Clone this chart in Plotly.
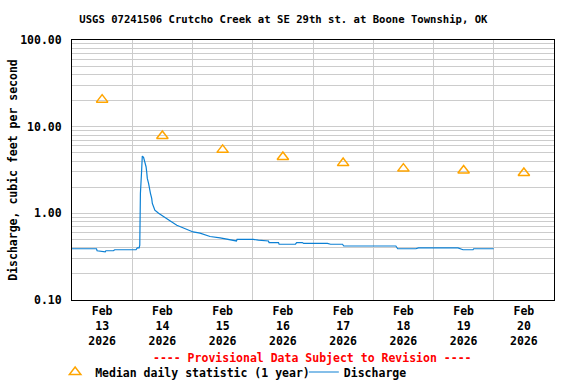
import plotly.graph_objects as go

# Median daily statistic (1 year), plotted at noon of each day
median_dates = ["2026-02-13 12:00", "2026-02-14 12:00", "2026-02-15 12:00", "2026-02-16 12:00",
                "2026-02-17 12:00", "2026-02-18 12:00", "2026-02-19 12:00", "2026-02-20 12:00"]
median_values = [20.5, 7.8, 5.4, 4.46, 3.8, 3.28, 3.12, 2.92]

# Discharge (cfs)
q_times = [
    "2026-02-13 00:00", "2026-02-13 09:45", "2026-02-13 10:00", "2026-02-13 12:45", "2026-02-13 13:15",
    "2026-02-13 13:30", "2026-02-13 16:30", "2026-02-13 17:00", "2026-02-14 01:30", "2026-02-14 02:00",
    "2026-02-14 02:45", "2026-02-14 03:00", "2026-02-14 03:15", "2026-02-14 03:45", "2026-02-14 04:00",
    "2026-02-14 04:30", "2026-02-14 05:00", "2026-02-14 05:30", "2026-02-14 05:45", "2026-02-14 06:00",
    "2026-02-14 06:30", "2026-02-14 06:45", "2026-02-14 07:15", "2026-02-14 07:45", "2026-02-14 08:00",
    "2026-02-14 08:30", "2026-02-14 09:00", "2026-02-14 10:30", "2026-02-14 12:30", "2026-02-14 15:00",
    "2026-02-14 17:45", "2026-02-14 20:30", "2026-02-14 23:00", "2026-02-15 00:15", "2026-02-15 03:00",
    "2026-02-15 07:00", "2026-02-15 11:00", "2026-02-15 13:45", "2026-02-15 16:15", "2026-02-15 17:30",
    "2026-02-15 17:45", "2026-02-16 00:15", "2026-02-16 02:15", "2026-02-16 06:15", "2026-02-16 06:30",
    "2026-02-16 10:15", "2026-02-16 10:30", "2026-02-16 17:00", "2026-02-16 17:30", "2026-02-16 19:45",
    "2026-02-16 20:15", "2026-02-17 05:45", "2026-02-17 07:00", "2026-02-17 11:45", "2026-02-17 12:15",
    "2026-02-18 09:00", "2026-02-18 09:45", "2026-02-18 17:00", "2026-02-18 18:00", "2026-02-19 09:45",
    "2026-02-19 11:45", "2026-02-19 15:45", "2026-02-19 16:00", "2026-02-19 18:00", "2026-02-20 00:00",
]
q_values = [
    0.39, 0.39, 0.37, 0.36, 0.36,
    0.37, 0.37, 0.38, 0.38, 0.40,
    0.40, 0.43, 1.70, 3.16, 4.58,
    4.42, 3.94, 3.45, 3.02, 2.53,
    2.22, 1.94, 1.70, 1.49, 1.30,
    1.19, 1.09, 1.00, 0.91, 0.82,
    0.73, 0.68, 0.64, 0.61, 0.59,
    0.54, 0.52, 0.50, 0.48, 0.48,
    0.50, 0.50, 0.49, 0.48, 0.46,
    0.46, 0.44, 0.44, 0.46, 0.46,
    0.45, 0.45, 0.44, 0.44, 0.42,
    0.42, 0.39, 0.39, 0.40, 0.40,
    0.38, 0.38, 0.39, 0.39, 0.39,
]

y_tick_vals = [0.1, 1, 10, 100]
y_tick_text = ["0.10", "1.00", "10.00", "100.00"]
y_minor_vals = [m * d for d in (0.1, 1, 10) for m in range(2, 10)]

FONT = "DejaVu Sans Mono"

fig = go.Figure()
fig.add_trace(go.Scatter(
    x=median_dates, y=median_values, mode="markers",
    name="Median daily statistic (1 year)", legend="legend",
    marker=dict(symbol="triangle-up-open", size=10, color="#ffa500", line=dict(width=1.5, color="#ffa500")),
))
fig.add_trace(go.Scatter(
    x=q_times, y=q_values, mode="lines", name="Discharge", legend="legend2",
    line=dict(color="#0c80d4", width=1.2),
))

legend_common = dict(orientation="h", xanchor="left", yanchor="middle", y=-0.277,
                     font=dict(family=FONT, size=11.5, weight="bold"), bgcolor="rgba(0,0,0,0)",
                     itemwidth=30)

fig.update_layout(
    width=576, height=384,
    margin=dict(l=72, r=22, t=40, b=84, autoexpand=False),
    paper_bgcolor="white", plot_bgcolor="white",
    font=dict(family=FONT, size=11.5, color="black", weight="bold"),
    title=dict(text="USGS 07241506 Crutcho Creek at SE 29th st. at Boone Township, OK",
               x=0.492, xanchor="center", y=1 - 19 / 384, yanchor="middle", yref="container",
               font=dict(family=FONT, size=10.6, color="black", weight="bold")),
    showlegend=True,
    legend=dict(legend_common, x=-0.035),
    legend2=dict(legend_common, x=0.481),
    annotations=[dict(text="---- Provisional Data Subject to Revision ----", xref="paper", yref="paper",
                      x=0.498, y=-0.223, xanchor="center", yanchor="middle", showarrow=False,
                      font=dict(family=FONT, size=11.5, color="red", weight="bold"))],
)
fig.update_xaxes(
    type="date", range=["2026-02-13 00:00", "2026-02-21 00:00"], automargin=False,
    dtick=86400000, tick0="2026-02-13", ticklabelmode="period", tickformat="%b<br>%d<br>%Y",
    showgrid=True, gridcolor="#cccccc", gridwidth=1, ticks="",
    showline=True, linecolor="black", linewidth=1, mirror=True, zeroline=False,
)
fig.update_yaxes(
    type="log", range=[-1, 2], tickvals=y_tick_vals, ticktext=y_tick_text, automargin=False,
    showgrid=True, gridcolor="#cccccc", gridwidth=1, ticks="", ticklabelstandoff=7,
    minor=dict(tickvals=y_minor_vals, showgrid=True, gridcolor="#cccccc", gridwidth=1, ticks=""),
    showline=True, linecolor="black", linewidth=1, mirror=True, zeroline=False,
    title=dict(text="Discharge, cubic feet per second", standoff=0,
               font=dict(family=FONT, size=11.5, weight="bold")),
)

fig.write_html("out.html", config={"displayModeBar": False},
               post_script="document.body.style.margin='0';document.body.style.overflow='hidden';")
